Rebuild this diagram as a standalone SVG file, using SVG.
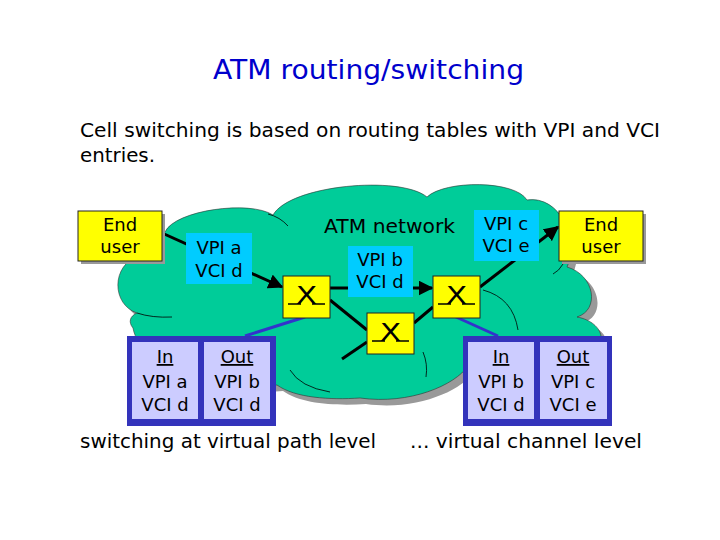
<svg xmlns="http://www.w3.org/2000/svg" width="720" height="540" viewBox="0 0 720 540">
<defs>
<style>
text{font-family:"DejaVu Sans","Liberation Sans",sans-serif;fill:#000}
.t{font-size:18px;text-anchor:middle}
.big{font-size:20px}
.box{fill:#ffff00;stroke:#222;stroke-width:1}
.shadow{fill:#999}
.lbl{fill:#00ccff}
.conn{stroke:#000;stroke-width:3;fill:none}
.blue{stroke:#3333cc;stroke-width:3;fill:none}
.tout{fill:#3333bb}
.tin{fill:#ccccff}
.inner{stroke:#000;stroke-width:0.8;fill:none}
.x{font-size:24px;text-anchor:middle}
.us{stroke:#000;stroke-width:1.5}
</style>
<marker id="ah" viewBox="0 0 10 10" refX="9" refY="5" markerWidth="5" markerHeight="5" orient="auto" markerUnits="strokeWidth">
<path d="M0 0L10 5L0 10z" fill="#000"/>
</marker>
<path id="cloud" d="M165 232 C175 210 250 200 273 215 C290 185 400 175 427 197 C445 180 515 180 527 200 C560 195 580 240 567 267 C595 275 600 310 577 317 C605 322 612 350 580 355 C560 385 490 390 468 366 C455 385 410 405 360 398 C330 400 295 398 277 385 C230 390 140 370 133 328 C128 322 130 316 137 313 C112 305 110 265 140 255 C140 235 155 230 165 232 Z"/>
</defs>
<rect width="720" height="540" fill="#fff"/>
<text x="213" y="79" textLength="311" lengthAdjust="spacingAndGlyphs" style="font-size:26px;fill:#0000cc">ATM routing/switching</text>
<text class="big" x="80" y="137" textLength="580" lengthAdjust="spacingAndGlyphs">Cell switching is based on routing tables with VPI and VCI</text>
<text class="big" x="80" y="162" textLength="75" lengthAdjust="spacingAndGlyphs">entries.</text>

<g id="cloud-network">
<use href="#cloud" transform="translate(6,6)" fill="#999"/>
<use href="#cloud" fill="#00cc99" stroke="#333" stroke-width="0.6"/>
<path class="inner" d="M268 214 q12 3 20 12"/>
<path class="inner" d="M137 313 q15 5 35 4"/>
<path class="inner" d="M483 290 q30 8 35 40"/>
<path class="inner" d="M553 274 q6 -3 10 -10"/>
<path class="inner" d="M290 370 q10 17 40 22"/>
<path class="inner" d="M423 352 q5 12 3 25"/>
<text class="big" x="324" y="233" textLength="131" lengthAdjust="spacingAndGlyphs">ATM network</text>
</g>

<g id="connectors">
<line class="conn" x1="162" y1="233" x2="282" y2="287" marker-end="url(#ah)"/>
<line class="conn" x1="330" y1="288" x2="432" y2="288" marker-end="url(#ah)"/>
<line class="conn" x1="330" y1="300" x2="367" y2="330"/>
<line class="conn" x1="342" y1="359" x2="367" y2="342"/>
<line class="conn" x1="414" y1="323" x2="433" y2="307"/>
<line class="conn" x1="480" y1="287" x2="558" y2="227" marker-end="url(#ah)"/>
<line class="blue" x1="305" y1="317" x2="245" y2="336"/>
<line class="blue" x1="456" y1="317" x2="498" y2="336"/>
</g>

<g id="enduser-left">
<rect class="shadow" x="81" y="214" width="84" height="50"/>
<rect class="box" x="78" y="211" width="84" height="50"/>
<text class="t" x="120" y="231">End</text>
<text class="t" x="120" y="253">user</text>
</g>
<g id="enduser-right">
<rect class="shadow" x="562" y="214" width="84" height="50"/>
<rect class="box" x="559" y="211" width="84" height="50"/>
<text class="t" x="601" y="231">End</text>
<text class="t" x="601" y="253">user</text>
</g>

<g id="label-a">
<rect class="lbl" x="186" y="233" width="66" height="51"/>
<text class="t" x="219" y="254">VPI a</text>
<text class="t" x="219" y="277">VCI d</text>
</g>
<g id="label-b">
<rect class="lbl" x="348" y="246" width="65" height="51"/>
<text class="t" x="380" y="266">VPI b</text>
<text class="t" x="380" y="288">VCI d</text>
</g>
<g id="label-c">
<rect class="lbl" x="474" y="210" width="65" height="51"/>
<text class="t" x="506" y="230">VPI c</text>
<text class="t" x="506" y="252">VCI e</text>
</g>

<g id="switch-1">
<rect class="box" x="283" y="276" width="47" height="42"/>
<text class="x" transform="translate(306.5 304) scale(1.3 1)">X</text>
<path class="us" d="M288 304h13M312 304h13"/>
</g>
<g id="switch-2">
<rect class="box" x="367" y="313" width="47" height="41"/>
<text class="x" transform="translate(390.5 341) scale(1.3 1)">X</text>
<path class="us" d="M372 341h13M396 341h13"/>
</g>
<g id="switch-3">
<rect class="box" x="433" y="276" width="47" height="42"/>
<text class="x" transform="translate(456.5 304) scale(1.3 1)">X</text>
<path class="us" d="M438 304h13M462 304h13"/>
</g>

<g id="table-left">
<rect class="tout" x="127" y="336" width="149" height="90"/>
<rect class="tin" x="132" y="342" width="66" height="77"/>
<rect class="tin" x="204" y="342" width="66" height="77"/>
<text class="t" x="165" y="363" text-decoration="underline">In</text>
<text class="t" x="165" y="388">VPI a</text>
<text class="t" x="165" y="411">VCI d</text>
<text class="t" x="237" y="363" text-decoration="underline">Out</text>
<text class="t" x="237" y="388">VPI b</text>
<text class="t" x="237" y="411">VCI d</text>
</g>
<g id="table-right">
<rect class="tout" x="463" y="336" width="149" height="90"/>
<rect class="tin" x="468" y="342" width="66" height="77"/>
<rect class="tin" x="540" y="342" width="67" height="77"/>
<text class="t" x="501" y="363" text-decoration="underline">In</text>
<text class="t" x="501" y="388">VPI b</text>
<text class="t" x="501" y="411">VCI d</text>
<text class="t" x="573" y="363" text-decoration="underline">Out</text>
<text class="t" x="573" y="388">VPI c</text>
<text class="t" x="573" y="411">VCI e</text>
</g>

<text class="big" x="80" y="448" textLength="296" lengthAdjust="spacingAndGlyphs">switching at virtual path level</text>
<text class="big" x="410" y="448" textLength="232" lengthAdjust="spacingAndGlyphs">... virtual channel level</text>
</svg>
